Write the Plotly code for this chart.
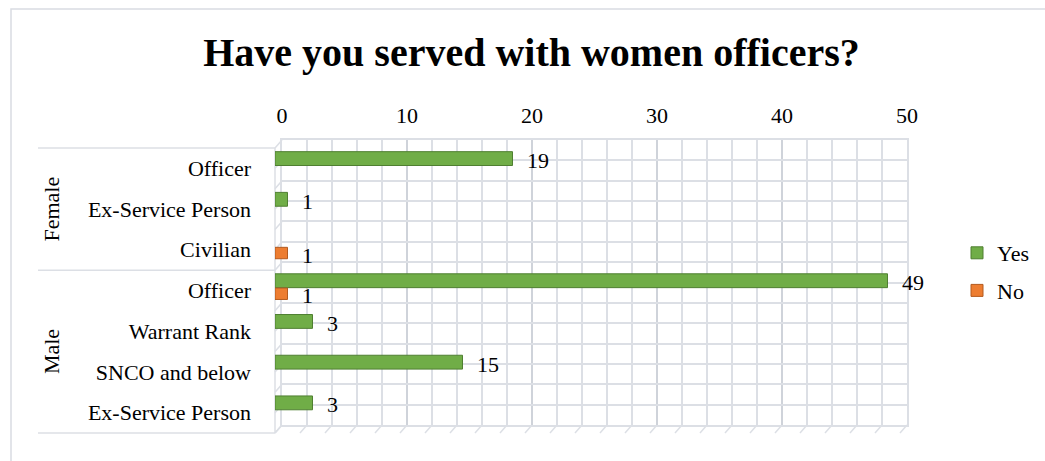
import plotly.graph_objects as go

# ---- data -------------------------------------------------------------
groups = ["Female", "Female", "Female", "Male", "Male", "Male", "Male"]
roles = ["Officer", "Ex-Service Person", "Civilian",
         "Officer", "Warrant Rank", "SNCO and below", "Ex-Service Person"]
yes_counts = [19, 1, None, 49, 3, 15, 3]
no_counts = [None, None, 1, 1, None, None, None]
x_ticks = [0, 10, 20, 30, 40, 50]
x_max = 50

# ---- styling ----------------------------------------------------------
W, H = 1045, 461
FONT = "Liberation Serif, Times New Roman, serif"
GREEN, GREEN_EDGE = "#70AD47", "#4F7F31"
ORANGE, ORANGE_EDGE = "#ED7D31", "#B35A1F"
GRID = "#DCDFE5"
GRID_MAJOR = "#CFD3DA"
TEXT = "#000000"

# back wall (grid) and front plane (bars) in pixels, giving a depth effect
BACK = dict(x0=282, x1=907, y0=140, y1=425)
FRONT = dict(x0=275, x1=900, y0=148, y1=433)
LABEL_BOX_LEFT = 38


def px(x):
    return x / W


def py(y):
    return 1 - y / H


n = len(roles)
pos = list(range(n))
slot_front = (FRONT["y1"] - FRONT["y0"]) / n
slot_back = (BACK["y1"] - BACK["y0"]) / n

# bar placement inside each category slot (slot units, reversed axis)
YES_OFF, YES_W = -0.41, 0.34
NO_OFF, NO_W = -0.06, 0.28

fig = go.Figure()

# invisible trace so the back-wall subplot is laid out
fig.add_trace(go.Scatter(x=[None], y=[None], xaxis="x", yaxis="y",
                         showlegend=False, hoverinfo="skip"))

fig.add_trace(go.Bar(
    name="Yes", x=yes_counts, y=pos, orientation="h",
    offset=YES_OFF, width=YES_W,
    marker=dict(color=GREEN, line=dict(color=GREEN_EDGE, width=1)),
    xaxis="x2", yaxis="y2", legendgroup="yes",
))
fig.add_trace(go.Bar(
    name="No", x=no_counts, y=pos, orientation="h",
    offset=NO_OFF, width=NO_W,
    marker=dict(color=ORANGE, line=dict(color=ORANGE_EDGE, width=1)),
    xaxis="x2", yaxis="y2", legendgroup="no",
))

# value labels at the end of each bar
annotations = []
for values, off, w in ((yes_counts, YES_OFF, YES_W), (no_counts, NO_OFF, NO_W)):
    for p, v in zip(pos, values):
        if v is None:
            continue
        annotations.append(dict(
            x=v, y=p + off + w / 2, xref="x2", yref="y2",
            text=str(v), showarrow=False, xanchor="left", yanchor="middle",
            xshift=12, yshift=-2, font=dict(family=FONT, size=22, color=TEXT),
        ))

# group labels (rotated) centred on their block of categories
group_bounds = [0]
for i in range(1, n):
    if groups[i] != groups[i - 1]:
        group_bounds.append(i)
group_bounds.append(n)
for a, b in zip(group_bounds[:-1], group_bounds[1:]):
    annotations.append(dict(
        x=px(51.5), y=(a + b - 1) / 2, xref="paper", yref="y2",
        text=groups[a], showarrow=False, textangle=-90,
        xanchor="center", yanchor="middle",
        font=dict(family=FONT, size=22, color=TEXT),
    ))

shapes = []
line_style = dict(color=GRID, width=1.5)

# outer chart border
shapes.append(dict(type="rect", xref="paper", yref="paper",
                   x0=px(11), x1=px(1052), y0=py(9), y1=py(470),
                   line=dict(color="#D9DCE2", width=1.5), layer="below"))

# category label box: group separators and the front edge
for b in group_bounds:
    yb = FRONT["y0"] + b * slot_front
    shapes.append(dict(type="line", xref="paper", yref="paper",
                       x0=px(LABEL_BOX_LEFT), x1=px(FRONT["x0"]),
                       y0=py(yb), y1=py(yb), line=line_style, layer="below"))
shapes.append(dict(type="line", xref="paper", yref="paper",
                   x0=px(FRONT["x0"]), x1=px(FRONT["x0"]),
                   y0=py(FRONT["y0"]), y1=py(FRONT["y1"]),
                   line=line_style, layer="below"))

# side wall: join front and back at every half-slot gridline
for k in range(2 * n + 1):
    yf = FRONT["y0"] + k * slot_front / 2
    yb = BACK["y0"] + k * slot_back / 2
    shapes.append(dict(type="line", xref="paper", yref="paper",
                       x0=px(FRONT["x0"]), x1=px(BACK["x0"]),
                       y0=py(yf), y1=py(yb), line=line_style, layer="below"))

# floor: join front and back at every minor x gridline
for v in range(0, x_max + 1, 2):
    xf = FRONT["x0"] + v / x_max * (FRONT["x1"] - FRONT["x0"])
    xb = BACK["x0"] + v / x_max * (BACK["x1"] - BACK["x0"])
    shapes.append(dict(type="line", xref="paper", yref="paper",
                       x0=px(xf), x1=px(xb),
                       y0=py(FRONT["y1"]), y1=py(BACK["y1"]),
                       line=line_style, layer="below"))

fig.update_layout(
    width=W, height=H,
    margin=dict(l=0, r=0, t=0, b=0, autoexpand=False),
    paper_bgcolor="white", plot_bgcolor="rgba(0,0,0,0)",
    barmode="overlay",
    font=dict(family=FONT, size=22, color=TEXT),
    title=dict(text="Have you served with women officers?",
               x=531.5 / W, xanchor="center", xref="container",
               y=1 - 52 / H, yanchor="middle", yref="container",
               font=dict(family=FONT, size=40, weight="bold", color=TEXT)),
    xaxis=dict(domain=[px(BACK["x0"]), px(BACK["x1"])], range=[0, x_max],
               side="top", tickvals=x_ticks, ticks="",
               showgrid=True, gridcolor=GRID_MAJOR, gridwidth=2,
               minor=dict(dtick=2, showgrid=True, gridcolor=GRID, gridwidth=1.5),
               showline=True, mirror=True, linecolor=GRID, linewidth=1.5,
               zeroline=False, tickfont=dict(size=22), ticklabelstandoff=6,
               anchor="y", fixedrange=True, automargin=False),
    yaxis=dict(domain=[py(BACK["y1"]), py(BACK["y0"])],
               range=[n - 0.5, -0.5],
               tickvals=[-0.5 + 0.5 * k for k in range(2 * n + 1)],
               showticklabels=False, ticks="",
               showgrid=True, gridcolor=GRID, gridwidth=1.5,
               showline=True, mirror=True, linecolor=GRID, linewidth=1.5,
               zeroline=False, anchor="x", fixedrange=True, automargin=False),
    xaxis2=dict(domain=[px(FRONT["x0"]), px(FRONT["x1"])], range=[0, x_max],
                visible=False, anchor="y2", fixedrange=True, automargin=False),
    yaxis2=dict(domain=[py(FRONT["y1"]), py(FRONT["y0"])],
                range=[n - 0.5, -0.5], tickvals=pos, ticktext=roles,
                ticks="", showgrid=False, zeroline=False, showline=False,
                ticklabelstandoff=23, tickfont=dict(size=22),
                anchor="x2", fixedrange=True, automargin=False),
    legend=dict(x=px(957), xanchor="left", y=py(272), yanchor="middle",
                font=dict(size=22), tracegroupgap=6,
                bgcolor="rgba(0,0,0,0)", traceorder="grouped"),
    annotations=annotations,
    shapes=shapes,
)

fig.write_html("out.html")
